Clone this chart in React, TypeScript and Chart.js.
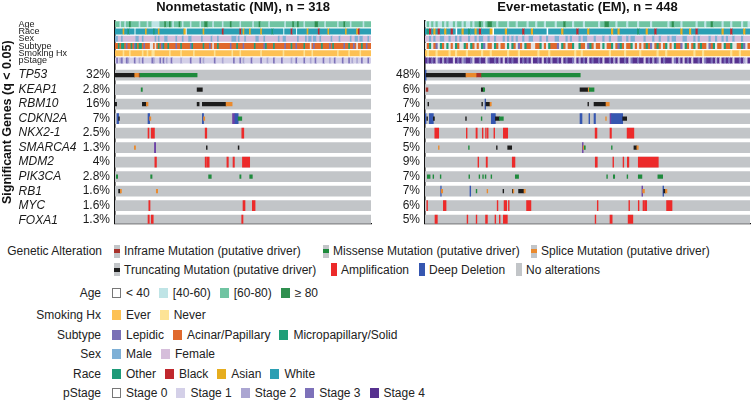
import React, { useEffect, useRef } from 'react';
import { Chart, registerables } from 'chart.js';
Chart.register(...registerables);

const FONT = "'Liberation Sans', Arial, Helvetica, sans-serif";
Chart.defaults.font.family = FONT;

// ---------- rows ----------
const CLIN_ROWS = ['Age', 'Race', 'Sex', 'Subtype', 'Smoking Hx', 'pStage'];
const GENES = ['TP53', 'KEAP1', 'RBM10', 'CDKN2A', 'NKX2-1', 'SMARCA4', 'MDM2', 'PIK3CA', 'RB1', 'MYC', 'FOXA1'];
const NM_N = 318;
const EM_N = 448;
const NM_PCT = ['32%', '2.8%', '16%', '7%', '2.5%', '1.3%', '4%', '2.8%', '1.6%', '1.6%', '1.3%'];
const EM_PCT = ['48%', '6%', '7%', '14%', '7%', '5%', '9%', '7%', '7%', '6%', '5%'];

// ---------- clinical tracks (one code per bin of samples) ----------
const NM_AGE =
  'mmmlmmlmmd' + 'mmmmmlmmmm' + 'lmmlllllmm' + 'mdmmdmlmmm' + 'dmlmmmmlmm' + 'mmmlmmddmm' + 'mlmmmmmlmm' + 'mmdmmmmmlm' +
  'mmmmmmlmmm' + 'dmmmmmlmmm' + 'mmmmmmlmmm' + 'mdmmdmmmlm' + 'mmmmmddmmm' + 'mlmmmmmmml' + 'mmmdmmmlmm' + 'mmmmmlmmmm';
const NM_RACE =
  'WWWWWAWWOW' + 'WWxWWWWWWA' + 'WWWWOWWAWW' + 'WWWWWWWWWW' + 'WWWAxWWWWW' + 'WWWWWAWWWW' + 'WWWWWWWBWW' + 'WWWWWWWWBW' +
  'AWWWAWWWWW' + 'WAWWWWWWOW' + 'WWWWWxWWWW' + 'BWWxWWWWWW' + 'AWWWWWWBWW' + 'WWWAWWWWWW' + 'WWWWAWWWWW' + 'WABWWWWWWW';
const NM_SEX =
  'MMFFMFFFFF' + 'FFFMMFFMFF' + 'FFFFFMFMFF' + 'FMMFFFFFMF' + 'FFMFFFMMFF' + 'FFFFMFFFFF' + 'MFFFMFFFFF' + 'FFFMMMFMFF' +
  'FMFFFFFFMM' + 'FFFMFFFFFF' + 'FFMFFMMFFF' + 'FFFFMFFFFM' + 'FMMFMMFFMF' + 'FFFFFMFFFF' + 'MFFFFFFMFF' + 'MMFMMFFFMF';
const NM_SUBTYPE =
  'AASASSALAA' + 'SALSASSALA' + 'AAnnAnASAL' + 'SAASAAAALA' + 'ASAAAAALSA' + 'AAAAASAAAL' + 'AnAASAAAAA' + 'AALAAASAAA' +
  'LAAAAAASAA' + 'AAALSAAAAS' + 'AAAAAALAAA' + 'SAALAAAASA' + 'AAnALAAAAS' + 'AAAALASAAA' + 'AAALAASAAL' + 'AnAASAALAA';
const NM_SMOKING =
  'EEEEENEEEN' + 'EEEEEEENEE' + 'NEENNEEEEE' + 'EEEENEEEEE' + 'ENEEEEEEEN' + 'EEEEEEEEEE' + 'EENEEEEEEE' + 'EEENEEEENE' +
  'EEEEEEEEEE' + 'ENEEEEEEEE' + 'EEEEENEEEE' + 'EEEEEEEENE' + 'EEENEEEEEE' + 'EEEEEEEEEN' + 'EEEEEENEEE' + 'EEENEEEEEE';
const NM_STAGE =
  '1312311321' + '1131121311' + '1113211131' + '3121131111' + '1211111311' + '1113121111' + '1131111211' + '1111311131' +
  '2111131111' + '1311121113' + '1111311111' + '2113111131' + '1121131111' + '3111211311' + '1131113121' + '1211311131';

const EM_AGE =
  'lmlmlmllml' + 'mllmlmmlml' + 'lmlmmdmlmd' + 'dmmlmmmmlm' + 'mmlmmmmlmm' + 'mlmmmlmmmm' + 'lmmmdmmmlm' + 'mmmlmmmmmm' +
  'lmmddmmmlm' + 'mmmlmmmmlm' + 'mmmmlmmmmm' + 'mmlmdmmmlm' + 'mmmmmlmmml' + 'mmdmmmmlmm' + 'mlmmmmlmml';
const EM_RACE =
  'WOBWAWBWWA' + 'WWBWxWWAWW' + 'OWWAWBWWWW' + 'AxWWWWWAWW' + 'WWWWWBWWWA' + 'WWWWWWxWWW' + 'WWWAWWWWWW' + 'BWWWWAWWWW' +
  'WWWWWWAWWA' + 'WWWWWWWWOW' + 'WWAWWWBWWW' + 'WWWWWWWWAW' + 'WWAWWBWWWW' + 'WWWWWWWAWW' + 'WBWWWWWAWW';
const EM_SEX =
  'FFMFMFFMMF' + 'FMFFMFMFFF' + 'MFFMFMMFFM' + 'FFMFFFMFMF' + 'MFMFFMFFMM' + 'FFFMFFMFFF' + 'MMFFFMFMFF' + 'FMFMMFFFMF' +
  'FFMFFMFFFM' + 'MFFMFMMFFF' + 'FMFFFMFFMF' + 'FFMFMMFFFM' + 'MFFFMFMFFF' + 'FMFFMFFMFM' + 'FFMFFFMFFF';
const EM_SUBTYPE =
  'nASnALnSAn' + 'SnAnSAnnSA' + 'nSAnAnSLnA' + 'AnSAnAAnSn' + 'SAnLAnSAAn' + 'nAASnAnSAA' + 'ALnSAnAASn' + 'nSAAnLSAnA' +
  'AnSnAASnAL' + 'SAnAASnAnA' + 'nASALnASAn' + 'ASnAnSAALn' + 'SAnASnASAA' + 'nLASnAAnSA' + 'ASnnAASLnA';
const EM_SMOKING =
  'ENEEENEEEE' + 'ENEENEEEEN' + 'EEEEEENEEE' + 'NEEEEEEENE' + 'EEENEEEEEE' + 'EENEEEENEE' + 'EEEEEEEEEN' + 'EENEEEEEEE' +
  'EEEEENEEEE' + 'EENEEEEEEN' + 'EEEEEEENEE' + 'ENEEEEEEEE' + 'EEEENEEENE' + 'EEEEEEEEEE' + 'ENEEENEEEE';
const EM_STAGE =
  '4343413424' + '3441434234' + '4314434413' + '4434241434' + '3441434341' + '4434143424' + '4341434431' + '4243414344' +
  '3414434241' + '4434134434' + '4143424314' + '3444134241' + '4341443413' + '4434241434' + '3414434214';

// ---------- alterations: [first sample, last sample, type] ----------
const NM_TP53 = [[0, 24.5, 'T'], [24.5, 30, 'S'], [30, 31, 'I'], [31, 102, 'M']];
const NM_KEAP1 = [[32.5, 34, 'M'], [102, 108.5, 'T']];
const NM_RBM10 = [[0, 2, 'T'], [34, 39, 'T'], [39, 41, 'S'], [102, 104.5, 'T'], [108.5, 138, 'T'], [138, 145.5, 'S']];
const NM_CDKN2A = [[2.5, 4.5, 'D'], [4.5, 5.5, 'T'], [41, 43, 'D'], [43, 44.5, 'S'], [108.5, 110, 'D'], [110, 111.5, 'S'],
  [146, 149, 'P'], [149, 153, 'D'], [153, 157.5, 'M']];
const NM_NKX21 = [[41, 42.2, 'A'], [45, 49, 'A'], [112, 114, 'A'], [157.5, 160, 'A']];
const NM_SMARCA4 = [[24, 25.5, 'S'], [49, 50.5, 'P'], [113.5, 114.5, 'T'], [153, 154, 'T']];
const NM_MDM2 = [[49.5, 51.5, 'A'], [112, 113.5, 'A'], [114.3, 117, 'A'], [139, 140.8, 'A'], [146.6, 148.3, 'A'], [158.3, 167.3, 'A']];
const NM_PIK3CA = [[1.7, 3.3, 'M'], [44.3, 46, 'M'], [116.3, 119.6, 'M'], [155, 156.5, 'M'], [167.3, 170.6, 'M']];
const NM_RB1 = [[4.5, 6.6, 'T'], [6.6, 8, 'S'], [51.3, 53, 'S']];
const NM_MYC = [[42, 43.5, 'A'], [159, 161.5, 'A'], [170.6, 174, 'A']];
const NM_FOXA1 = [[41, 42.6, 'A'], [45, 47.5, 'A'], [157.4, 159, 'A']];

const EM_TP53 = [[0, 1.5, 'D'], [1.5, 56.5, 'T'], [56.5, 71.3, 'S'], [71.3, 78, 'I'], [78, 214, 'M']];
const EM_KEAP1 = [[1.5, 4, 'I'], [77.6, 80.4, 'T'], [80.4, 82.3, 'M'], [213.7, 225, 'T'], [225, 226.5, 'S'], [226.5, 233, 'M']];
const EM_RBM10 = [[4, 5, 'T'], [78.3, 79.3, 'T'], [82.7, 83.6, 'D'], [84, 89.6, 'T'], [89.6, 91.4, 'S'], [224.5, 225.5, 'T'],
  [233, 249.5, 'T'], [249.5, 254, 'S']];
const EM_CDKN2A = [[0, 1.4, 'D'], [2.5, 3.5, 'T'], [6, 11.5, 'D'], [11.5, 13, 'T'], [56, 57, 'T'], [77.5, 78.5, 'M'],
  [91.4, 97, 'D'], [97, 102.6, 'T'], [102.6, 108, 'M'], [213.7, 216.4, 'D'], [226, 227, 'D'], [233, 235, 'D'],
  [249, 250, 'S'], [255, 257, 'P'], [257, 272.5, 'D'], [272.5, 278, 'T']];
const EM_NKX21 = [[13.5, 18.9, 'A'], [57, 58, 'A'], [70.3, 72, 'A'], [79, 80, 'A'], [83.5, 84.5, 'A'], [86, 87, 'A'],
  [95, 96, 'A'], [108, 114, 'A'], [234.5, 237, 'A'], [255, 257, 'A'], [278.6, 287.9, 'A']];
const EM_SMARCA4 = [[18.5, 19.5, 'S'], [60, 61, 'M'], [98.5, 99.5, 'T'], [114, 119.5, 'T'], [217, 218, 'P'], [218, 219.5, 'S'],
  [219.5, 221, 'M'], [257, 258, 'M'], [288, 292, 'T'], [292, 294, 'S']];
const EM_MDM2 = [[73, 74, 'A'], [84.3, 86, 'A'], [120.3, 124, 'A'], [234.7, 237.5, 'A'], [259, 260, 'A'], [273, 274, 'A'],
  [278.9, 281, 'A'], [294, 321.6, 'A']];
const EM_PIK3CA = [[3.2, 7, 'M'], [11, 12, 'M'], [21, 22, 'M'], [60.5, 61.5, 'M'], [74.5, 75.5, 'M'], [79.5, 80.5, 'M'],
  [83, 84, 'M'], [91, 92, 'M'], [124.5, 129, 'M'], [250.5, 251.5, 'M'], [259.6, 261.5, 'M'], [278.5, 279.5, 'M'],
  [294, 299, 'M'], [321, 327.6, 'M']];
const EM_RB1 = [[21.6, 22.4, 'D'], [22.4, 24.4, 'S'], [62, 63, 'D'], [70.5, 71.5, 'M'], [85.5, 86.5, 'S'], [107.5, 108.5, 'T'],
  [120.5, 121.5, 'T'], [121.5, 122.5, 'S'], [129, 136.5, 'T'], [136.5, 138.3, 'S'], [299, 300, 'P'], [300, 302.5, 'S'],
  [328, 329, 'D'], [329, 331.5, 'T'], [331.5, 333.5, 'S']];
const EM_MYC = [[2.5, 3.5, 'A'], [25.3, 29, 'A'], [99.5, 100.5, 'A'], [109, 112.6, 'A'], [115, 116, 'A'], [140, 146, 'A'],
  [237.5, 238.5, 'A'], [281, 282, 'A'], [294, 295, 'A'], [300.5, 301.5, 'A'], [302.5, 305.6, 'A'], [333, 340.5, 'A']];
const EM_FOXA1 = [[13.8, 17, 'A'], [58, 59, 'A'], [70.5, 71.5, 'A'], [83.5, 86, 'A'], [96.5, 97.5, 'A'], [102.5, 103.5, 'A'],
  [108, 113.5, 'A'], [234.5, 235.5, 'A'], [255, 258, 'A'], [280, 286.5, 'A']];

const NM_ALTS = [NM_TP53, NM_KEAP1, NM_RBM10, NM_CDKN2A, NM_NKX21, NM_SMARCA4, NM_MDM2, NM_PIK3CA, NM_RB1, NM_MYC, NM_FOXA1];
const EM_ALTS = [EM_TP53, EM_KEAP1, EM_RBM10, EM_CDKN2A, EM_NKX21, EM_SMARCA4, EM_MDM2, EM_PIK3CA, EM_RB1, EM_MYC, EM_FOXA1];
const NM_CLIN = [NM_AGE, NM_RACE, NM_SEX, NM_SUBTYPE, NM_SMOKING, NM_STAGE];
const EM_CLIN = [EM_AGE, EM_RACE, EM_SEX, EM_SUBTYPE, EM_SMOKING, EM_STAGE];

// ---------- colours ----------
const ALT_COLORS: Record<string, string> = {
  I: '#a8322c', M: '#1e8a3c', S: '#ea8a2e', T: '#1c1c1c', A: '#ec2a2a', D: '#3556b0', P: '#6b40a6',
};
const BG_GRAY = '#c2c5c8';
const CLIN_COLORS: Record<string, string>[] = [
  { l: '#bfe4e6', m: '#70c4a2', d: '#2f8f4f' },
  { W: '#2b9fb3', A: '#e6ad1e', B: '#c0272d', O: '#1d9a78' },
  { M: '#7eb0d6', F: '#d6bedb' },
  { L: '#7a70b6', A: '#e0692d', S: '#1f9e78', n: '#e4e4e4' },
  { E: '#fdc154', N: '#fde396' },
  { 1: '#d4d0e8', 2: '#aba6d2', 3: '#7d71b9', 4: '#56318f' },
];

// ---------- legend ----------
const GA_ROW1 = ['Inframe Mutation (putative driver)', 'Missense Mutation (putative driver)', 'Splice Mutation (putative driver)'];
const GA_ROW1_TYPES = ['I', 'M', 'S'];
const GA_ROW2 = ['Truncating Mutation (putative driver)', 'Amplification', 'Deep Deletion', 'No alterations'];
const GA_ROW2_TYPES = ['T', 'A', 'D', ''];
const AGE_LABELS = ['< 40', '[40-60)', '[60-80)', '≥ 80'];
const AGE_SW = ['#ffffff', '#bfe4e6', '#70c4a2', '#2f8f4f'];
const SMOKE_LABELS = ['Ever', 'Never'];
const SMOKE_SW = ['#fdc154', '#fde396'];
const SUBTYPE_LABELS = ['Lepidic', 'Acinar/Papillary', 'Micropapillary/Solid'];
const SUBTYPE_SW = ['#7a70b6', '#e0692d', '#1f9e78'];
const SEX_LABELS = ['Male', 'Female'];
const SEX_SW = ['#7eb0d6', '#d6bedb'];
const RACE_LABELS = ['Other', 'Black', 'Asian', 'White'];
const RACE_SW = ['#1d9a78', '#c0272d', '#e6ad1e', '#2b9fb3'];
const STAGE_LABELS = ['Stage 0', 'Stage 1', 'Stage 2', 'Stage 3', 'Stage 4'];
const STAGE_SW = ['#ffffff', '#d4d0e8', '#aba6d2', '#7d71b9', '#56318f'];

const ROWS: string[] = [...CLIN_ROWS];
GENES.forEach((g, i) => { ROWS.push('_s' + i); ROWS.push(g); });

function clinicalData(tracks: string[], n: number) {
  const data: any[] = [];
  const colors: string[] = [];
  tracks.forEach((codes, r) => {
    const bin = n / codes.length;
    let i = 0;
    while (i < codes.length) {
      let j = i;
      while (j < codes.length && codes[j] === codes[i]) j++;
      const col = CLIN_COLORS[r][codes[i]];
      if (col) { data.push({ x: [i * bin, j * bin], y: CLIN_ROWS[r] }); colors.push(col); }
      i = j;
    }
  });
  return { data, colors };
}

function altData(alts: any[][], types: string) {
  const data: any[] = [];
  const colors: string[] = [];
  alts.forEach((segs, g) => {
    segs.forEach((s) => {
      if (types.includes(s[2])) { data.push({ x: [s[0], s[1]], y: GENES[g] }); colors.push(ALT_COLORS[s[2]]); }
    });
  });
  return { data, colors };
}

function Panel(props: { n: number; pct: string[]; clin: string[]; alts: any[][]; title: string; names: boolean; width: number; left: number; pctW: number }) {
  const ref = useRef<HTMLCanvasElement>(null);
  const { n, pct, clin, alts, title, names, width, left, pctW } = props;
  useEffect(() => {
    const mut = altData(alts, 'TMSI');
    const cna = altData(alts, 'ADP');
    const cl = clinicalData(clin, n);
    const pctFor = (i: number) => { const g = GENES.indexOf(ROWS[i]); return g >= 0 ? pct[g] : ''; };
    const scales: any = {
      x: {
        type: 'linear', min: 0, max: n, display: true,
        grid: { display: false, drawTicks: false }, ticks: { display: false },
        border: { display: true, color: '#111', width: 1.2 },
        afterFit: (s: any) => { s.height = 0; },
      },
      y: {
        type: 'category', labels: ROWS, offset: true, position: 'left', weight: 1,
        grid: { display: false, drawTicks: false },
        border: { display: true, color: '#111', width: 1.5 },
        ticks: { autoSkip: false, padding: 5, color: '#1a1a1a', font: { size: 12, family: FONT }, callback: (_v: any, i: number) => pctFor(i) },
        afterFit: (s: any) => { s.width = pctW; },
      },
    };
    if (names) {
      scales.yNames = {
        type: 'category', labels: ROWS, offset: true, position: 'left', weight: 2,
        grid: { display: false, drawTicks: false }, border: { display: false },
        ticks: {
          autoSkip: false, padding: 0, crossAlign: 'far', color: '#1a1a1a',
          font: (c: any) => (c.index < 6 ? { size: 9, family: FONT } : { size: 12, style: 'italic', family: FONT }),
          callback: (_v: any, i: number) => (ROWS[i].startsWith('_') ? '' : ROWS[i]),
        },
        afterFit: (s: any) => { s.width = 63.5; },
      };
      scales.yTitle = {
        type: 'category', labels: ROWS, offset: true, position: 'left', weight: 3,
        grid: { display: false, drawTicks: false }, border: { display: false }, ticks: { display: false },
        title: { display: true, text: 'Significant Genes (q < 0.05)', color: '#111', font: { size: 12.5, weight: 'bold', family: FONT }, padding: { top: 0, bottom: 0 } },
        afterFit: (s: any) => { s.width = 18.5; },
      };
    }
    const chart = new Chart(ref.current as HTMLCanvasElement, {
      type: 'bar',
      data: {
        labels: ROWS,
        datasets: [
          { label: 'mutation', data: mut.data, backgroundColor: mut.colors, barThickness: 3.7, grouped: false, order: 1, borderWidth: 0 } as any,
          { label: 'cna', data: cna.data, backgroundColor: cna.colors, barThickness: 10, grouped: false, order: 2, borderWidth: 0 } as any,
          { label: 'clinical', data: cl.data, backgroundColor: cl.colors, barThickness: 5.3, grouped: false, order: 3, borderWidth: 0 } as any,
          { label: 'none', data: GENES.map((g) => ({ x: [0, n], y: g })), backgroundColor: BG_GRAY, barThickness: 10, grouped: false, order: 4, borderWidth: 0 } as any,
        ],
      },
      options: {
        indexAxis: 'y',
        animation: false,
        responsive: false,
        maintainAspectRatio: false,
        events: [],
        layout: { padding: { left: 0, right: 4, top: 0, bottom: 5 } },
        scales,
        plugins: {
          legend: { display: false },
          tooltip: { enabled: false },
          title: {
            display: true, text: title, fullSize: false, color: '#111',
            font: { size: 13, weight: 'bold', family: FONT, lineHeight: 1.1 },
            padding: { top: 0, bottom: 6.4 },
          },
        },
      } as any,
    });
    return () => chart.destroy();
  }, []);
  return (
    <canvas ref={ref} width={width} height={236} style={{ position: 'absolute', left, top: 0, width, height: 236 }} />
  );
}

const txt: React.CSSProperties = { fontFamily: FONT, fontSize: 12, color: '#222', whiteSpace: 'nowrap', lineHeight: '16px' };

function GaSwatch({ type }: { type: string }) {
  const full = type === 'A' || type === 'D';
  return (
    <div style={{ position: 'relative', width: 6, height: 13, background: full ? ALT_COLORS[type] : BG_GRAY, flex: 'none' }}>
      {!full && type ? <div style={{ position: 'absolute', left: 0, top: 4.5, width: 6, height: 4, background: ALT_COLORS[type] }} /> : null}
    </div>
  );
}

function GaRow({ y, labels, types, xs, title }: { y: number; labels: string[]; types: string[]; xs: number[]; title?: string }) {
  return (
    <>
      {title ? <div style={{ ...txt, position: 'absolute', right: 754 - 102, top: y - 8, textAlign: 'right' }}>{title}</div> : null}
      {labels.map((l, i) => (
        <div key={l} style={{ position: 'absolute', left: xs[i], top: y - 8, height: 16, display: 'flex', alignItems: 'center' }}>
          <GaSwatch type={types[i]} />
          <span style={{ ...txt, marginLeft: 4 }}>{l}</span>
        </div>
      ))}
    </>
  );
}

function ClinRow({ y, title, labels, colors }: { y: number; title: string; labels: string[]; colors: string[] }) {
  return (
    <>
      <div style={{ ...txt, position: 'absolute', right: 754 - 101, top: y - 8, textAlign: 'right' }}>{title}</div>
      <div style={{ position: 'absolute', left: 112, top: y - 8, height: 16, display: 'flex', alignItems: 'center' }}>
        {labels.map((l, i) => (
          <div key={l} style={{ display: 'flex', alignItems: 'center', marginRight: 9 }}>
            <div style={{ width: 9, height: 10, boxSizing: 'border-box', background: colors[i], border: colors[i] === '#ffffff' ? '1px solid #777' : 'none' }} />
            <span style={{ ...txt, marginLeft: 5 }}>{l}</span>
          </div>
        ))}
      </div>
    </>
  );
}

export default function App() {
  useEffect(() => { document.body.style.margin = '0'; }, []);
  return (
    <div style={{ position: 'relative', width: 754, height: 400, overflow: 'hidden', background: '#fff' }}>
      <Panel n={NM_N} pct={NM_PCT} clin={NM_CLIN} alts={NM_ALTS} title="Nonmetastatic (NM), n = 318" names={true} width={375} left={0} pctW={33} />
      <Panel n={EM_N} pct={EM_PCT} clin={EM_CLIN} alts={EM_ALTS} title="Ever-metastatic (EM), n = 448" names={false} width={379} left={375} pctW={50} />
      <GaRow y={251} title="Genetic Alteration" labels={GA_ROW1} types={GA_ROW1_TYPES} xs={[114, 323, 531]} />
      <GaRow y={269.7} labels={GA_ROW2} types={GA_ROW2_TYPES} xs={[114, 331, 419, 516]} />
      <ClinRow y={292.7} title="Age" labels={AGE_LABELS} colors={AGE_SW} />
      <ClinRow y={315.3} title="Smoking Hx" labels={SMOKE_LABELS} colors={SMOKE_SW} />
      <ClinRow y={334.7} title="Subtype" labels={SUBTYPE_LABELS} colors={SUBTYPE_SW} />
      <ClinRow y={354} title="Sex" labels={SEX_LABELS} colors={SEX_SW} />
      <ClinRow y={373.7} title="Race" labels={RACE_LABELS} colors={RACE_SW} />
      <ClinRow y={392.7} title="pStage" labels={STAGE_LABELS} colors={STAGE_SW} />
    </div>
  );
}
